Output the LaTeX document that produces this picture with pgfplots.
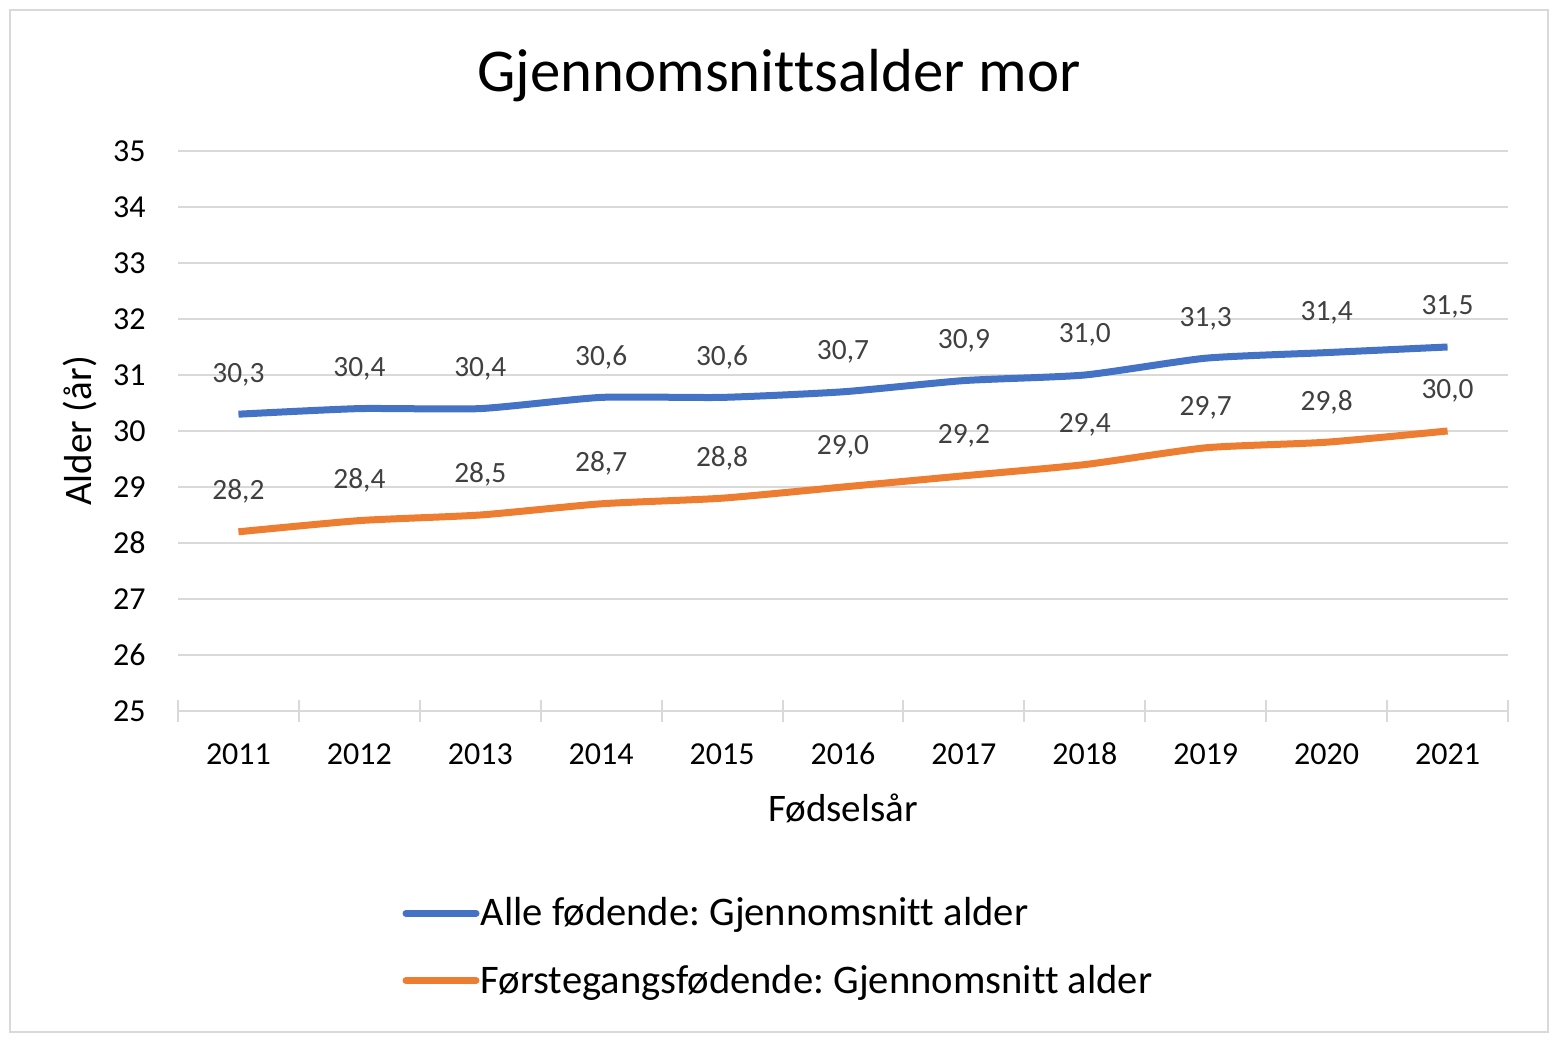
\documentclass[border=0pt]{standalone}
\usepackage{pgfplots}
\pgfplotsset{compat=1.18}
\usepackage{fontspec}
\setmainfont{Carlito}[Ligatures=NoCommon]
\frenchspacing
\definecolor{seriesA}{HTML}{4472C4}
\definecolor{seriesB}{HTML}{ED7D31}
\definecolor{gridgrey}{HTML}{D9D9D9}
\definecolor{labelgrey}{HTML}{404040}

\begin{document}
\begin{tikzpicture}
% whole chart area, 0.5pt per reference pixel
\useasboundingbox (-89pt,-165.5pt) rectangle (691.5pt,355.5pt);
\draw[gridgrey, line width=1pt] (-84pt,-160.5pt) rectangle (685pt,350.5pt);
\begin{axis}[
    scale only axis,
    width=665pt, height=280pt,
    xmin=-0.5, xmax=10.5,
    ymin=25, ymax=35,
    ytick={25,...,35},
    xtick={-0.5,0.5,...,10.5},
    xticklabels={2011,2012,2013,2014,2015,2016,2017,2018,2019,2020,2021},
    x tick label as interval,
    /pgf/number format/assume math mode=true,
    axis x line*=bottom, axis y line*=left,
    y axis line style={draw=none},
    x axis line style={gridgrey, line width=1pt},
    ytick style={draw=none},
    xtick style={gridgrey, line width=1pt},
    xtick align=center,
    major tick length=11pt,
    ymajorgrids,
    major grid style={gridgrey, line width=1pt},
    tick label style={font=\fontsize{16}{18}\selectfont, black},
    yticklabel style={anchor=east, inner sep=0pt, xshift=-16pt},
    xticklabel style={anchor=base, inner sep=0pt, yshift=-21pt},
    title={Gjennomsnittsalder mor},
    title style={at={(axis description cs:0.4519,1.0857)}, anchor=base,
        font=\fontsize{30.4}{34}\selectfont, inner sep=0pt},
    xlabel={Fødselsår},
    xlabel style={at={(axis description cs:0.5,-0.198)}, anchor=base,
        font=\fontsize{19.5}{22}\selectfont, inner sep=0pt},
    ylabel={Alder (år)},
    ylabel style={at={(axis description cs:-0.0737,0.5)}, anchor=center,
        font=\fontsize{19.5}{22}\selectfont, inner sep=0pt},
    every axis plot/.append style={line width=3.5pt, smooth, tension=0.35},
    nodes near coords={\pgfmathprintnumber[fixed, fixed zerofill, precision=1, use comma, assume math mode=true]{\pgfplotspointmeta}},
    nodes near coords style={font=\fontsize{14.7}{16}\selectfont, labelgrey,
        anchor=base, yshift=16pt, inner sep=0pt},
    legend image code/.code={\draw[#1, line cap=round, smooth=false] (0pt,0pt) -- (35pt,0pt);},
    legend style={draw=none, fill=none, at={(axis description cs:0.1685,-0.4214)},
        anchor=west, inner sep=0pt, row sep=17pt,
        font=\fontsize{20.3}{23}\selectfont,
        nodes={inner sep=0.5pt}},
    legend cell align=left,
  ]
  \addplot[seriesA, mark=none] coordinates {
    (0,30.3) (1,30.4) (2,30.4) (3,30.6) (4,30.6) (5,30.7)
    (6,30.9) (7,31.0) (8,31.3) (9,31.4) (10,31.5)
  };
  \addlegendentry{Alle fødende: Gjennomsnitt alder}
  \addplot[seriesB, mark=none] coordinates {
    (0,28.2) (1,28.4) (2,28.5) (3,28.7) (4,28.8) (5,29.0)
    (6,29.2) (7,29.4) (8,29.7) (9,29.8) (10,30.0)
  };
  \addlegendentry{Førstegangsfødende: Gjennomsnitt alder}
\end{axis}
\end{tikzpicture}
\end{document}
